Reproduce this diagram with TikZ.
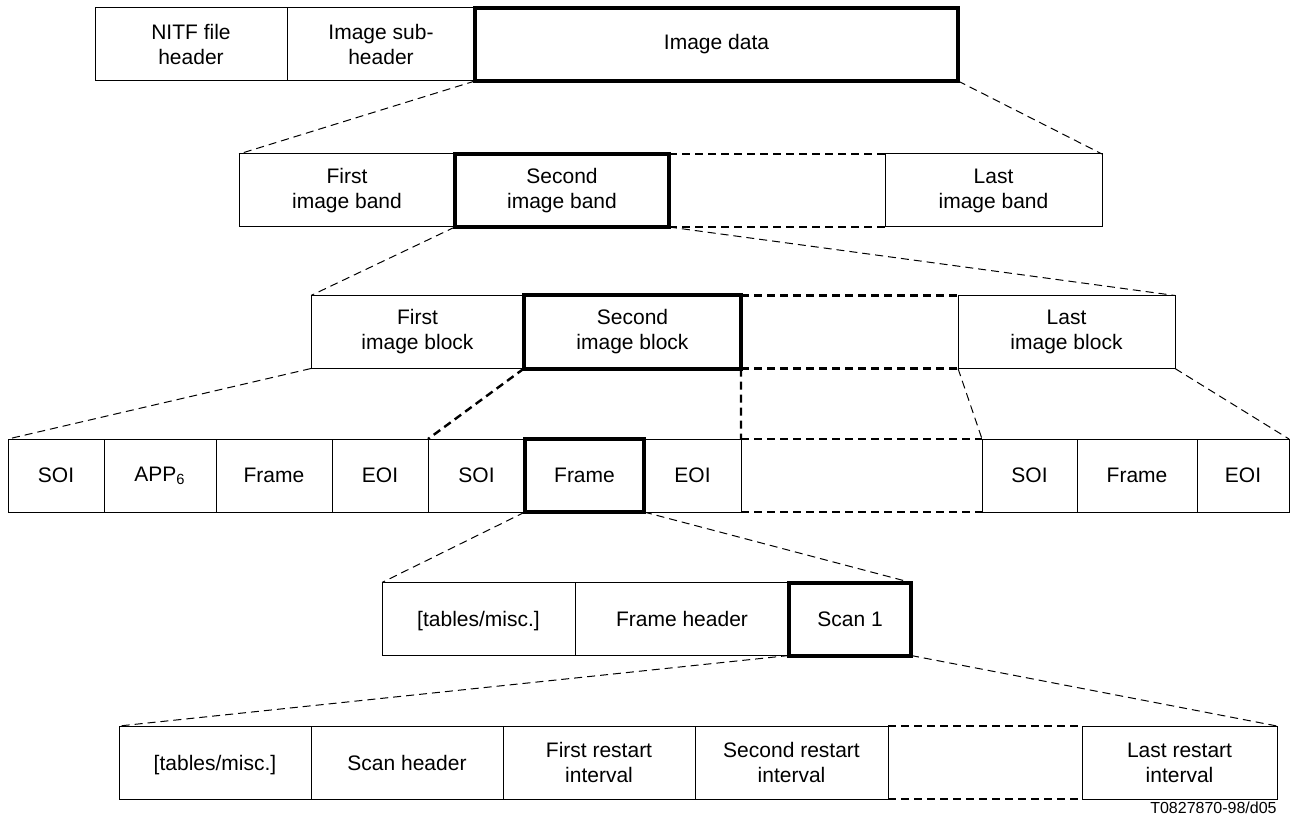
\documentclass[tikz,border=0pt]{standalone}
\usepackage{fontspec}
\setmainfont{Liberation Sans}
\usepackage{tikz}

\begin{document}
\begin{tikzpicture}[x=.5pt,y=-.5pt,
  cell/.style={draw,line width=.5pt,inner sep=0pt,outer sep=0pt,
    minimum height=36.5pt,align=center,font=\fontsize{10.5}{12.5}\selectfont},
  hot/.style={cell,line width=2pt},
  gap/.style={cell,draw=none},
  zoom/.style={dash pattern=on 4pt off 2.5pt,line width=.5pt},
  gapline/.style={dash pattern=on 4pt off 2.5pt,line width=1.2pt}]
  \useasboundingbox (0,0) rectangle (1293,823);
  % file level
  \foreach \n/\a/\b/\t in {nitf/95/287/{NITF file\\header},sub/287/475/{Image sub-\\header}}
    \node[cell,minimum width={(\b-\a)*.5pt}] (\n) at ({(\a+\b)/2},44.5) {\t};
  \node[hot,minimum width={(958-475)*.5pt}] (data) at ({(475+958)/2},44.5) {Image data};
  % bands
  \foreach \n/\a/\b/\t in {band1/239/455/{First\\image band},band3/885/1102/{Last\\image band}}
    \node[cell,minimum width={(\b-\a)*.5pt}] (\n) at ({(\a+\b)/2},190.5) {\t};
  \node[gap,minimum width={(885-669)*.5pt}] (gap2) at ({(669+885)/2},190.5) {};
  \draw[gapline] (gap2.north west) -- (gap2.north east) (gap2.south west) -- (gap2.south east);
  \node[hot,minimum width={(669-455)*.5pt}] (band2) at ({(455+669)/2},190.5) {Second\\image band};
  % blocks
  \foreach \n/\a/\b/\t in {blk1/311/524/{First\\image block},blk3/958/1175/{Last\\image block}}
    \node[cell,minimum width={(\b-\a)*.5pt}] (\n) at ({(\a+\b)/2},332) {\t};
  \node[gap,minimum width={(958-741)*.5pt}] (gap3) at ({(741+958)/2},332) {};
  \draw[gapline] (gap3.north west) -- (gap3.north east) (gap3.south west) -- (gap3.south east);
  \node[hot,minimum width={(741-524)*.5pt}] (blk2) at ({(524+741)/2},332) {Second\\image block};
  % markers
  \foreach \n/\a/\b/\t in {soiA/8/104/SOI,app/104/216/{APP\textsubscript{6}},frmA/216/332/Frame,
      eoiA/332/428/EOI,soiB/428/525/SOI,eoiB/644/741/EOI,
      soiC/982/1077/SOI,frmC/1077/1197/Frame,eoiC/1197/1289/EOI}
    \node[cell,minimum width={(\b-\a)*.5pt}] (\n) at ({(\a+\b)/2},475.5) {\t};
  \node[gap,minimum width={(982-741)*.5pt}] (gap4) at ({(741+982)/2},475.5) {};
  \draw[gapline] (gap4.north west) -- (gap4.north east) (gap4.south west) -- (gap4.south east);
  \node[hot,minimum width={(644-525)*.5pt}] (frmB) at ({(525+644)/2},475.5) {Frame};
  % frame
  \node[cell,minimum width={(575-382)*.5pt}] (tabA) at ({(382+575)/2},619) {\raisebox{0pt}[\height][0pt]{[tables/misc.]}};
  \node[cell,minimum width={(789-575)*.5pt}] (fhdr) at ({(575+789)/2},619) {Frame header};
  \node[hot,minimum width={(911-789)*.5pt}] (scan) at ({(789+911)/2},619) {Scan 1};
  % scan
  \node[cell,minimum width={(311-119)*.5pt}] (tabB) at ({(119+311)/2},762.5) {\raisebox{0pt}[\height][0pt]{[tables/misc.]}};
  \foreach \n/\a/\b/\t in {shdr/311/503/{Scan header},rst1/503/695/{First restart\\interval},
      rst2/695/888/{Second restart\\interval},rstN/1082/1277/{Last restart\\interval}}
    \node[cell,minimum width={(\b-\a)*.5pt}] (\n) at ({(\a+\b)/2},762.5) {\t};
  \node[gap,minimum width={(1082-888)*.5pt}] (gap6) at ({(888+1082)/2},762.5) {};
  \draw[gapline] (gap6.north west) -- (gap6.north east) (gap6.south west) -- (gap6.south east);
  % zoom lines
  \draw[zoom] (data.south west) -- (band1.north west) (data.south east) -- (band3.north east);
  \draw[zoom] (band2.south west) -- (blk1.north west) (band2.south east) -- (blk3.north east);
  \draw[zoom] (blk1.south west) -- (soiA.north west);
  \draw[gapline] (blk2.south west) -- (soiB.north west) (blk2.south east) -- (gap4.north west);
  \draw[zoom] (blk3.south west) -- (soiC.north west) (blk3.south east) -- (eoiC.north east);
  \draw[zoom] (frmB.south west) -- (tabA.north west) (frmB.south east) -- (scan.north east);
  \draw[zoom] (scan.south west) -- (tabB.north west) (scan.south east) -- (rstN.north east);
  \node[anchor=base east,inner sep=0pt,font=\fontsize{8}{9}\selectfont] (tag) at (1277,813) {T0827870-98/d05};
\end{tikzpicture}
\end{document}
